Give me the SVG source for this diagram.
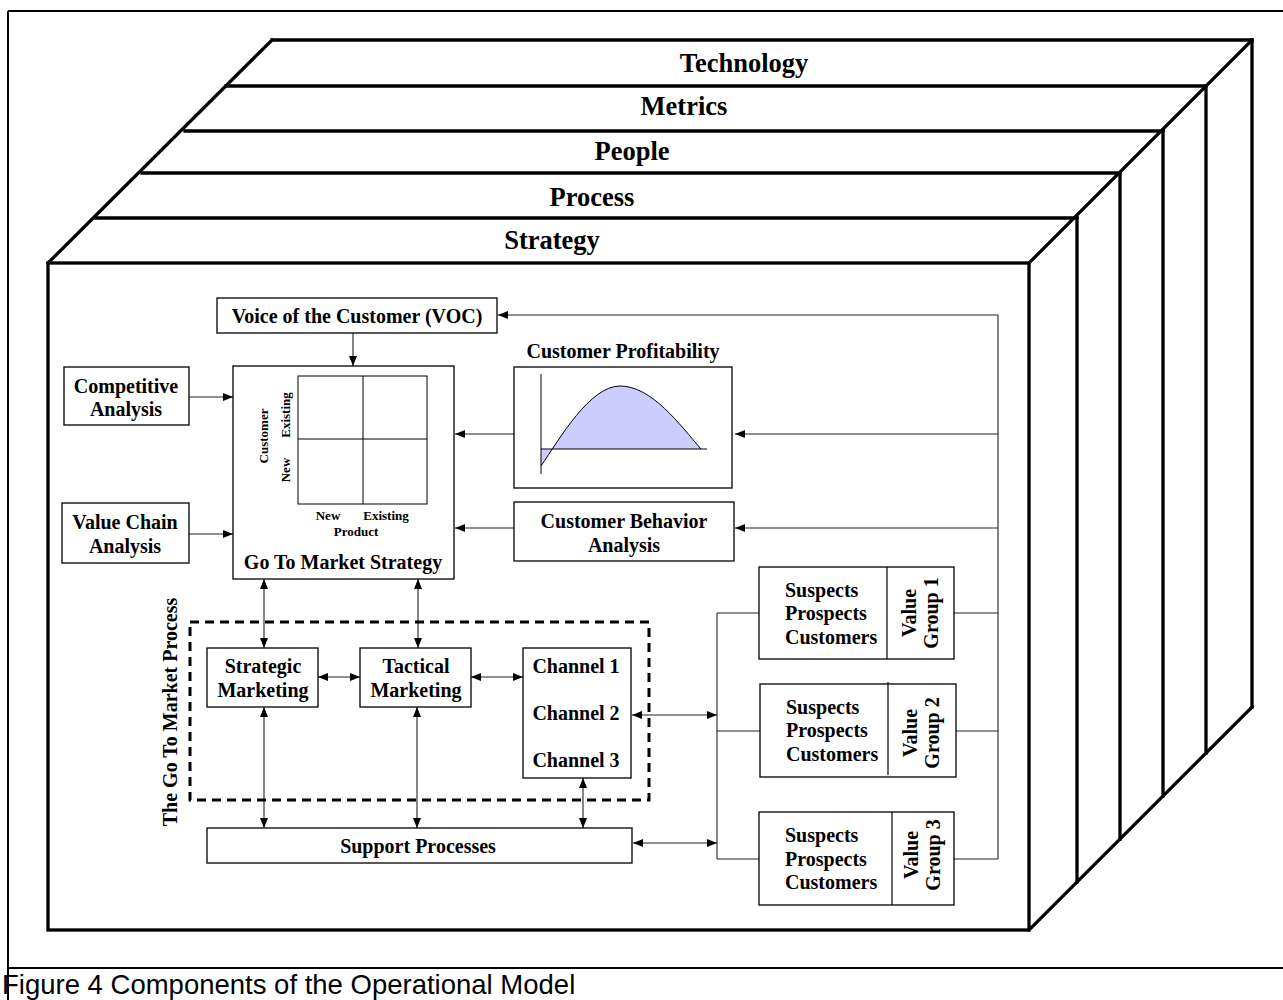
<svg xmlns="http://www.w3.org/2000/svg" width="1283" height="1000" viewBox="0 0 1283 1000">
<defs>
<marker id="arr" viewBox="0 0 10 8" refX="10" refY="4" markerWidth="10" markerHeight="8" markerUnits="userSpaceOnUse" orient="auto-start-reverse">
<path d="M0,0 L10,4 L0,8 z" fill="#000"/>
</marker>
<style>
.cube{fill:none;stroke:#000;stroke-width:3.3;stroke-linecap:square}
.box{fill:#fff;stroke:#000;stroke-width:1.3}
.ln{fill:none;stroke:#222;stroke-width:1.1}
.a1{marker-end:url(#arr)}
.a2{marker-start:url(#arr);marker-end:url(#arr)}
.t{font-family:"Liberation Serif","Times New Roman",serif;font-weight:bold;font-size:20px;fill:#000;text-anchor:middle}
.tl{font-family:"Liberation Serif","Times New Roman",serif;font-weight:bold;font-size:26.5px;fill:#000;text-anchor:middle}
.ts{font-family:"Liberation Serif","Times New Roman",serif;font-weight:bold;font-size:13px;fill:#000;text-anchor:middle}
.tv{font-family:"Liberation Serif","Times New Roman",serif;font-weight:bold;font-size:20px;fill:#000;text-anchor:start}
</style>
</defs>
<rect width="1283" height="1000" fill="#fff"/>
<g id="frame" fill="none" stroke="#000" stroke-width="2">
<line x1="8" y1="11" x2="1283" y2="11"/>
<line x1="8" y1="11" x2="8" y2="1000"/>
<line x1="8" y1="968" x2="1283" y2="968"/>
</g>
<text id="caption" x="2" y="994" font-family="'Liberation Sans',Arial,sans-serif" font-size="27.5" fill="#000">Figure 4 Components of the Operational Model</text>

<g id="cube">
<line class="cube" x1="272" y1="40" x2="48" y2="263"/>
<line class="cube" x1="272" y1="40" x2="1252" y2="40"/>
<line class="cube" x1="226" y1="86" x2="1206" y2="86"/>
<line class="cube" x1="185" y1="131" x2="1163" y2="131"/>
<line class="cube" x1="142" y1="173" x2="1120" y2="173"/>
<line class="cube" x1="95" y1="218" x2="1077" y2="218"/>
<line class="cube" x1="1252" y1="40" x2="1029" y2="263"/>
<line class="cube" x1="1252" y1="40" x2="1252" y2="707"/>
<line class="cube" x1="1206" y1="86" x2="1206" y2="753"/>
<line class="cube" x1="1163" y1="131" x2="1163" y2="796"/>
<line class="cube" x1="1120" y1="173" x2="1120" y2="839"/>
<line class="cube" x1="1077" y1="218" x2="1077" y2="882"/>
<line class="cube" x1="1252" y1="707" x2="1029" y2="930"/>
<rect class="cube" x="48" y="263" width="981" height="667"/>
<text class="tl" x="744" y="72">Technology</text>
<text class="tl" x="684" y="115">Metrics</text>
<text class="tl" x="632" y="160">People</text>
<text class="tl" x="592" y="206">Process</text>
<text class="tl" x="552" y="249">Strategy</text>
</g>

<g id="connectors">
<line class="ln" x1="998" y1="315" x2="998" y2="859"/>
<line class="ln a1" x1="998" y1="315" x2="498" y2="315"/>
<line class="ln a1" x1="998" y1="434" x2="735" y2="434"/>
<line class="ln a1" x1="998" y1="528" x2="735" y2="528"/>
<line class="ln" x1="954" y1="613" x2="998" y2="613"/>
<line class="ln" x1="956" y1="731" x2="998" y2="731"/>
<line class="ln" x1="954" y1="859" x2="998" y2="859"/>
<line class="ln a1" x1="514" y1="434" x2="455" y2="434"/>
<line class="ln a1" x1="514" y1="528" x2="455" y2="528"/>
<line class="ln a1" x1="353" y1="333" x2="353" y2="366"/>
<line class="ln a1" x1="189" y1="397" x2="233" y2="397"/>
<line class="ln a1" x1="189" y1="534" x2="233" y2="534"/>
<line class="ln a2" x1="264" y1="579" x2="264" y2="648"/>
<line class="ln a2" x1="418" y1="579" x2="418" y2="648"/>
<line class="ln a2" x1="318" y1="677" x2="360" y2="677"/>
<line class="ln a2" x1="471" y1="677" x2="523" y2="677"/>
<line class="ln a2" x1="264" y1="707" x2="264" y2="828"/>
<line class="ln a2" x1="417" y1="707" x2="417" y2="828"/>
<line class="ln a2" x1="583" y1="778" x2="583" y2="828"/>
<line class="ln a2" x1="632" y1="715" x2="717" y2="715"/>
<line class="ln a2" x1="633" y1="843" x2="717" y2="843"/>
<line class="ln" x1="717" y1="613" x2="717" y2="859"/>
<line class="ln" x1="717" y1="613" x2="759" y2="613"/>
<line class="ln" x1="717" y1="731" x2="760" y2="731"/>
<line class="ln" x1="717" y1="859" x2="759" y2="859"/>
</g>

<g id="voc">
<rect class="box" x="217" y="298" width="280" height="35"/>
<text class="t" x="357" y="323">Voice of the Customer (VOC)</text>
</g>

<g id="competitive">
<rect class="box" x="64" y="367" width="125" height="58"/>
<text class="t" x="126" y="393">Competitive</text>
<text class="t" x="126" y="416">Analysis</text>
</g>

<g id="valuechain">
<rect class="box" x="62" y="503" width="127" height="60"/>
<text class="t" x="125" y="529">Value Chain</text>
<text class="t" x="125" y="553">Analysis</text>
</g>

<g id="gtm-strategy">
<rect class="box" x="233" y="366" width="221" height="213"/>
<rect x="298" y="376" width="129" height="128" fill="none" stroke="#000" stroke-width="1"/>
<line x1="363" y1="376" x2="363" y2="504" stroke="#000" stroke-width="1"/>
<line x1="298" y1="439" x2="427" y2="439" stroke="#000" stroke-width="1"/>
<text class="ts" transform="translate(268,436) rotate(-90)">Customer</text>
<text class="ts" transform="translate(290,415) rotate(-90)">Existing</text>
<text class="ts" transform="translate(290,470) rotate(-90)">New</text>
<text class="ts" x="328" y="520">New</text>
<text class="ts" x="386" y="520">Existing</text>
<text class="ts" x="356" y="536">Product</text>
<text class="t" x="343" y="569">Go To Market Strategy</text>
</g>

<g id="profitability">
<text class="t" x="623" y="358">Customer Profitability</text>
<rect class="box" x="514" y="367" width="218" height="121"/>
<path d="M541,449 L541,466 C560,438 590,386 620,386 C652,386 680,425 701,449 Z" fill="#ccccff" stroke="none"/>
<path d="M541,466 C560,438 590,386 620,386 C652,386 680,425 701,449" fill="none" stroke="#000" stroke-width="1"/>
<line x1="541" y1="374" x2="541" y2="474" stroke="#000" stroke-width="1"/>
<line x1="541" y1="449" x2="707" y2="449" stroke="#000" stroke-width="1"/>
</g>

<g id="behavior">
<rect class="box" x="514" y="502" width="220" height="59"/>
<text class="t" x="624" y="528">Customer Behavior</text>
<text class="t" x="624" y="552">Analysis</text>
</g>

<g id="gtm-process">
<rect x="190" y="622" width="459" height="178" fill="none" stroke="#000" stroke-width="3" stroke-dasharray="9,6"/>
<text class="t" transform="translate(177,712) rotate(-90)">The Go To Market Process</text>
</g>

<g id="strategic">
<rect class="box" x="207" y="648" width="111" height="59"/>
<text class="t" x="263" y="673">Strategic</text>
<text class="t" x="263" y="697">Marketing</text>
</g>

<g id="tactical">
<rect class="box" x="360" y="648" width="111" height="59"/>
<text class="t" x="416" y="673">Tactical</text>
<text class="t" x="416" y="697">Marketing</text>
</g>

<g id="channels">
<rect class="box" x="523" y="648" width="108" height="130"/>
<text class="t" x="576" y="673">Channel 1</text>
<text class="t" x="576" y="720">Channel 2</text>
<text class="t" x="576" y="767">Channel 3</text>
</g>

<g id="support">
<rect class="box" x="207" y="828" width="425" height="35"/>
<text class="t" x="418" y="853">Support Processes</text>
</g>

<g id="vg1">
<rect class="box" x="759" y="567" width="195" height="92"/>
<line x1="887" y1="567" x2="887" y2="659" stroke="#000" stroke-width="1.2"/>
<text class="tv" x="785" y="597">Suspects</text>
<text class="tv" x="785" y="620">Prospects</text>
<text class="tv" x="785" y="644">Customers</text>
<text class="t" transform="translate(916,613) rotate(-90)">Value</text>
<text class="t" transform="translate(938,613) rotate(-90)">Group 1</text>
</g>

<g id="vg2">
<rect class="box" x="760" y="684" width="196" height="93"/>
<line x1="888" y1="682" x2="888" y2="775" stroke="#000" stroke-width="1.2"/>
<text class="tv" x="786" y="714">Suspects</text>
<text class="tv" x="786" y="737">Prospects</text>
<text class="tv" x="786" y="761">Customers</text>
<text class="t" transform="translate(917,733) rotate(-90)">Value</text>
<text class="t" transform="translate(939,733) rotate(-90)">Group 2</text>
</g>

<g id="vg3">
<rect class="box" x="759" y="812" width="195" height="93"/>
<line x1="892" y1="812" x2="892" y2="905" stroke="#000" stroke-width="1.2"/>
<text class="tv" x="785" y="842">Suspects</text>
<text class="tv" x="785" y="866">Prospects</text>
<text class="tv" x="785" y="889">Customers</text>
<text class="t" transform="translate(918,855) rotate(-90)">Value</text>
<text class="t" transform="translate(940,855) rotate(-90)">Group 3</text>
</g>
</svg>
